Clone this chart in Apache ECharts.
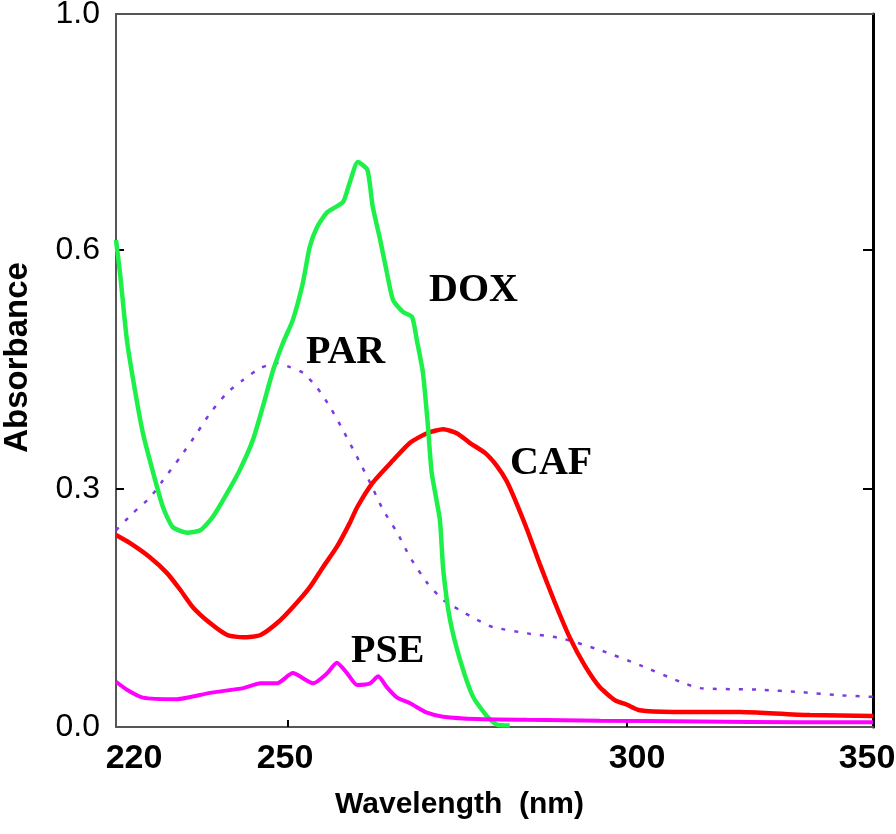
<!DOCTYPE html>
<html><head><meta charset="utf-8">
<script src="https://cdn.jsdelivr.net/npm/echarts@6/dist/echarts.min.js"></script>
<style>html,body{margin:0;padding:0;background:#fff}#c{width:896px;height:834px}</style>
</head><body><div id="c"></div>
<script>
// ---- tick labels ----
const xTickLabels = [220, 250, 300, 350];
const yTickLabels = [0.0, 0.3, 0.6, 1.0];

// ---- series data (wavelength nm, absorbance) ----
const doxWl = [220.0,220.7,221.9,223.3,224.7,226.5,228.2,229.9,232.4,234.7,236.9,239.4,241.6,243.9,245.6,247.4,249.1,250.7,252.2,253.2,254.3,255.8,258.1,259.1,260.3,261.7,262.5,263.6,264.6,265.5,267.0,268.3,269.0,269.9,270.6,271.2,272.4,272.9,273.9,275.4,277.3,279.4,280.8,282.7];
const doxAbs = [0.617,0.571,0.487,0.424,0.370,0.320,0.277,0.252,0.245,0.248,0.265,0.295,0.324,0.362,0.403,0.449,0.483,0.512,0.559,0.605,0.639,0.664,0.681,0.714,0.749,0.736,0.673,0.617,0.571,0.537,0.522,0.516,0.487,0.446,0.383,0.320,0.261,0.198,0.135,0.084,0.038,0.013,0.003,0.002];

const cafWl = [220.0,222.4,225.9,228.9,231.2,233.4,236.4,239.4,242.2,245.2,248.1,250.7,253.2,255.2,257.2,259.1,260.2,262.5,265.5,268.0,270.5,272.9,274.9,276.8,279.1,280.8,282.3,283.8,285.3,287.2,289.4,291.6,293.8,296.0,298.2,300.0,302.6,309.3,323.0,327.0,337.2,350.0];
const cafAbs = [0.242,0.232,0.214,0.194,0.173,0.151,0.131,0.116,0.113,0.116,0.131,0.151,0.176,0.202,0.227,0.257,0.277,0.308,0.336,0.358,0.370,0.375,0.370,0.358,0.345,0.329,0.309,0.280,0.248,0.204,0.156,0.112,0.077,0.050,0.034,0.028,0.021,0.019,0.019,0.018,0.015,0.014];

const parWl = [220.0,223.0,225.9,228.2,231.2,234.1,236.4,239.4,242.2,245.2,248.1,250.3,252.2,254.3,256.2,258.1,260.2,262.1,264.0,266.1,268.0,270.5,272.9,275.4,277.9,280.2,285.3,290.2,296.0,302.6,310.8,314.8,327.0,335.2,343.3,350.0];
const parAbs = [0.248,0.270,0.289,0.311,0.340,0.370,0.395,0.421,0.437,0.452,0.458,0.453,0.446,0.427,0.403,0.374,0.340,0.308,0.274,0.245,0.214,0.182,0.160,0.147,0.135,0.126,0.118,0.112,0.097,0.078,0.057,0.049,0.047,0.044,0.040,0.038];

const pseWl = [220.0,221.9,224.7,230.6,236.4,242.2,245.2,248.1,250.7,253.7,255.8,257.2,258.7,260.2,262.1,263.3,264.6,266.1,268.0,270.5,272.9,277.9,285.3,296.0,314.8,335.2,350.0];
const pseAbs = [0.057,0.047,0.037,0.035,0.043,0.049,0.055,0.055,0.068,0.055,0.068,0.081,0.068,0.053,0.055,0.064,0.050,0.037,0.030,0.018,0.013,0.010,0.009,0.008,0.007,0.006,0.006];

// ---- layout: the printed axes are piecewise (tick spacing is uneven in the figure) ----
const X_FRAC = [0, 172/757, 511/757, 1];
const Y_FRAC = [0, 238/713, 477/713, 1];
const X_LABEL_FRAC = [18/757, 169/757, 521/757, 751/757];

function warp(v, vals, fr) {
  const n = vals.length;
  for (let i = 0; i < n - 1; i++) {
    if (v <= vals[i + 1] || i === n - 2) {
      return fr[i] + (v - vals[i]) / (vals[i + 1] - vals[i]) * (fr[i + 1] - fr[i]);
    }
  }
}
const wx = v => warp(v, xTickLabels, X_FRAC);
const wy = v => warp(v, yTickLabels, Y_FRAC);
function nearest(arr, v) {
  let bi = 0, bd = Infinity;
  arr.forEach((a, i) => { const d = Math.abs(a - v); if (d < bd) { bd = d; bi = i; } });
  return bi;
}
const mk = (wl, ab) => wl.map((w, i) => [wx(w), wy(ab[i])]);

const chart = echarts.init(document.getElementById('c'), null, {renderer: 'canvas'});
const SANS = 'Liberation Sans, Arial, sans-serif';
const SERIF = 'Liberation Serif, Times New Roman, serif';

const option = {
  animation: false,
  backgroundColor: '#fff',
  grid: {left: 116, right: 23, top: 14, bottom: 107, containLabel: false, outerBoundsMode: 'none'},
  xAxis: [{
    type: 'value', min: 0, max: 1, position: 'bottom',
    axisLine: {onZero: false, lineStyle: {color: '#555', width: 2}},
    axisTick: {inside: true, length: 7, customValues: [X_FRAC[1], X_FRAC[2]], lineStyle: {color: '#000', width: 2}},
    axisLabel: {customValues: X_LABEL_FRAC, formatter: v => String(xTickLabels[nearest(X_LABEL_FRAC, v)]),
      fontFamily: SANS, fontWeight: 'bold', fontSize: 34, color: '#000', margin: 15},
    splitLine: {show: false},
    name: 'Wavelength  (nm)', nameLocation: 'middle', nameGap: 63,
    nameTextStyle: {fontFamily: SANS, fontWeight: 'bold', fontSize: 30, color: '#000', padding: [0, 70, 0, 0]}
  }, {
    type: 'value', min: 0, max: 1, position: 'top',
    axisLine: {onZero: false, lineStyle: {color: '#555', width: 2}},
    axisTick: {show: false}, axisLabel: {show: false}, splitLine: {show: false}
  }],
  yAxis: [{
    type: 'value', min: 0, max: 1, position: 'left',
    axisLine: {onZero: false, lineStyle: {color: '#555', width: 2}},
    axisTick: {inside: true, length: 8, customValues: [Y_FRAC[1], Y_FRAC[2]], lineStyle: {color: '#000', width: 2}},
    axisLabel: {customValues: Y_FRAC, formatter: v => yTickLabels[nearest(Y_FRAC, v)].toFixed(1),
      fontFamily: SANS, fontSize: 32, color: '#000', margin: 16},
    splitLine: {show: false},
    name: 'Absorbance', nameLocation: 'middle', nameGap: 82,
    nameTextStyle: {fontFamily: SANS, fontWeight: 'bold', fontSize: 33, color: '#000', padding: [0, 0, 0, 26]}
  }, {
    type: 'value', min: 0, max: 1, position: 'right',
    axisLine: {onZero: false, lineStyle: {color: '#000', width: 3}},
    axisTick: {inside: true, length: 10, customValues: [Y_FRAC[1], Y_FRAC[2]], lineStyle: {color: '#000', width: 2}},
    axisLabel: {show: false}, splitLine: {show: false}
  }],
  series: [
    {name: 'PAR', type: 'line', showSymbol: false, smooth: 0.2, data: mk(parWl, parAbs), z: 2,
      lineStyle: {color: '#7a3ce0', width: 2.5, type: [4, 9]}},
    {name: 'CAF', type: 'line', showSymbol: false, smooth: 0.2, data: mk(cafWl, cafAbs), z: 3,
      lineStyle: {color: '#ff0000', width: 4.5}},
    {name: 'DOX', type: 'line', showSymbol: false, smooth: 0.2, data: mk(doxWl, doxAbs), z: 4,
      lineStyle: {color: '#1ef04a', width: 4.5}},
    {name: 'PSE', type: 'line', showSymbol: false, smooth: 0.2, data: mk(pseWl, pseAbs), z: 5,
      lineStyle: {color: '#ff00ff', width: 4}}
  ],
  graphic: [
    {type: 'text', x: 429, y: 291, style: {text: 'DOX', font: 'bold 40px ' + SERIF, fill: '#000', verticalAlign: 'middle'}},
    {type: 'text', x: 306, y: 353, style: {text: 'PAR', font: 'bold 40px ' + SERIF, fill: '#000', verticalAlign: 'middle'}},
    {type: 'text', x: 510, y: 464, style: {text: 'CAF', font: 'bold 40px ' + SERIF, fill: '#000', verticalAlign: 'middle'}},
    {type: 'text', x: 351, y: 652, style: {text: 'PSE', font: 'bold 40px ' + SERIF, fill: '#000', verticalAlign: 'middle'}}
  ]
};
chart.setOption(option);
</script>
</body></html>
